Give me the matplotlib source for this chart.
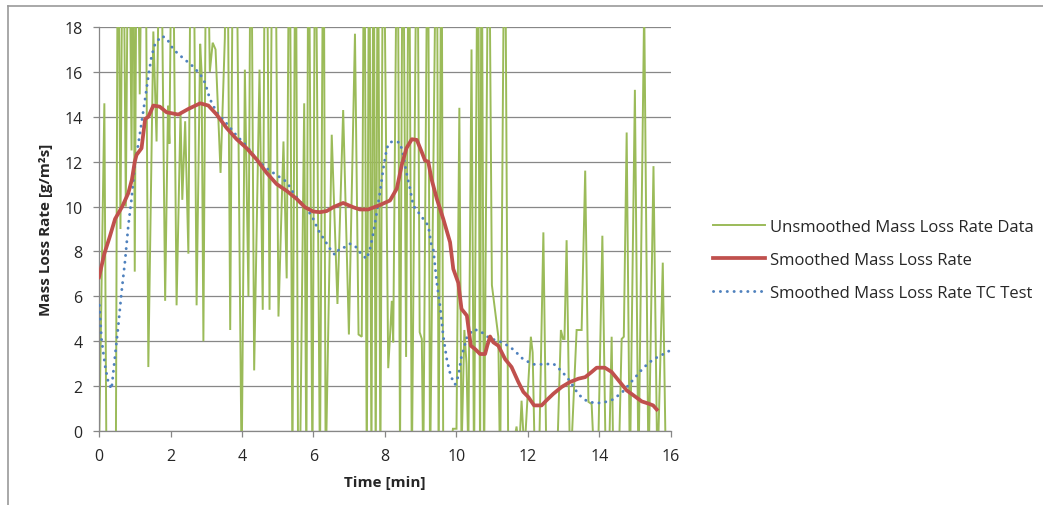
import matplotlib
matplotlib.use("Agg")
import matplotlib.pyplot as plt
from matplotlib.lines import Line2D

plt.rcParams['font.family'] = ['Open Sans', 'DejaVu Sans']

# Raw (unsmoothed) mass loss rate samples [min, g/m2s]
raw_time = [0.00, 0.15, 0.21, 0.47, 0.53, 0.60, 0.67, 0.75, 0.83, 0.91, 0.96, 1.00,
            1.06, 1.14, 1.22, 1.30, 1.38, 1.52, 1.61, 1.72, 1.85, 1.93, 1.97, 2.05,
            2.17, 2.28, 2.33, 2.41, 2.50, 2.58, 2.66, 2.73, 2.83, 2.87, 2.92, 3.01,
            3.10, 3.18, 3.26, 3.40, 3.52, 3.58, 3.67, 3.76, 3.85, 3.99, 4.08, 4.18,
            4.25, 4.34, 4.49, 4.58, 4.65, 4.71, 4.77, 4.86, 4.93, 5.02, 5.16, 5.25,
            5.33, 5.41, 5.50, 5.57, 5.62, 5.74, 5.80, 5.86, 5.97, 6.05, 6.18, 6.28,
            6.34, 6.51, 6.67, 6.83, 6.99, 7.16, 7.26, 7.35, 7.42, 7.49, 7.56, 7.62,
            7.68, 7.74, 7.80, 7.87, 7.95, 8.09, 8.15, 8.19, 8.23, 8.35, 8.42, 8.50,
            8.59, 8.67, 8.75, 8.90, 8.97, 9.03, 9.07, 9.20, 9.26, 9.45, 9.50, 9.58,
            9.63, 9.75, 9.90, 10.00, 10.08, 10.14, 10.22, 10.28, 10.33, 10.42, 10.49,
            10.60, 10.66, 10.70, 10.77, 10.90, 10.99, 11.17, 11.22, 11.35, 11.45,
            11.55, 11.68, 11.75, 11.82, 11.90, 12.08, 12.13, 12.20, 12.30, 12.43,
            12.52, 12.80, 12.92, 12.98, 13.02, 13.08, 13.18, 13.36, 13.50, 13.60,
            13.69, 13.78, 13.87, 13.95, 14.08, 14.18, 14.27, 14.34, 14.39, 14.53,
            14.62, 14.68, 14.76, 14.85, 14.99, 15.09, 15.25, 15.37, 15.51, 15.62,
            15.77, 15.86]
raw_rate = [-1.0, 14.6, -2.0, -2.0, 26.0, 9.0, 26.0, 10.0, 26.0, 12.5, 26.0, 7.1,
            26.0, 15.0, 26.0, 24.0, 2.85, 17.8, 12.9, 26.0, 5.8, 14.5, 12.8, 26.0,
            5.6, 14.2, 10.3, 13.8, 7.9, 26.0, 20.0, 5.6, 17.25, 16.0, 4.0, 26.0,
            16.0, 17.3, 17.0, 11.5, 17.5, 26.0, 4.5, 26.0, 22.0, -2.0, 16.1, 6.0,
            26.0, 2.7, 16.1, 5.4, 26.0, 20.0, 5.4, 26.0, 24.0, 5.1, 12.9, 6.8,
            26.0, -2.0, 26.0, -2.0, -2.0, 14.6, -2.0, 26.0, -2.0, 26.0, -2.0, 26.0,
            -2.0, 13.2, 5.66, 14.3, 4.3, 17.7, 4.3, 4.2, 26.0, -2.0, 26.0, -2.0,
            26.0, -2.0, 26.0, -2.0, 26.0, 2.8, 4.5, 5.8, 3.95, 26.0, -1.0, 26.0,
            3.3, 26.0, -2.0, 26.0, 4.4, 4.1, -2.0, 26.0, -2.0, 26.0, -2.0, 26.0,
            -2.0, -2.0, 0.1, 0.1, 14.4, -1.0, 4.5, 3.0, -1.0, 17.0, -2.0,
            26.0, -2.0, 26.0, -2.0, 26.0, 6.5, 4.2, -2.0, 26.0, -2.0,
            -1.0, 0.2, -1.0, 1.35, -1.0, 4.2, 3.5, -2.0, -2.0, 8.85,
            -2.0, -2.0, 4.5, 4.1, 4.1, 8.5, -2.0, 4.5, 4.5, 11.6,
            1.3, 1.2, -2.0, -2.0, 8.7, -2.0, -1.0, 4.2, -2.0, -2.0,
            4.1, 4.2, 13.3, -2.0, 15.2, -2.0, 19.0, -2.0, 11.8, -2.0,
            7.5, -2.0]

# Smoothed mass loss rate
smooth_time = [0.00, 0.15, 0.30, 0.45, 0.65, 0.82, 0.92, 1.00, 1.05, 1.19, 1.29, 1.38,
               1.52, 1.70, 1.89, 2.22, 2.50, 2.83, 3.06, 3.29, 3.57, 3.85, 4.13, 4.41,
               4.69, 4.97, 5.25,
               5.53, 5.76, 5.99, 6.18, 6.37, 6.55, 6.83, 7.11, 7.30, 7.53, 7.86, 8.14,
               8.33, 8.47, 8.60, 8.75, 8.89, 9.03, 9.12, 9.21, 9.30, 9.45, 9.63, 9.82,
               9.91, 10.05, 10.14, 10.29, 10.40, 10.52, 10.66, 10.80, 10.86, 10.94,
               11.03, 11.17, 11.36, 11.54, 11.73, 11.87, 12.01, 12.17, 12.38, 12.52,
               12.71, 12.94, 13.17, 13.41, 13.60, 13.78, 13.92, 14.15, 14.34, 14.53,
               14.76, 14.95, 15.18, 15.37, 15.50, 15.60]
smooth_rate = [6.85, 7.9, 8.65, 9.45, 10.0, 10.6, 11.2, 12.0, 12.3, 12.6, 13.9, 14.0,
               14.5, 14.45, 14.2, 14.1, 14.35, 14.6, 14.5, 14.1, 13.5, 13.0, 12.6, 12.1,
               11.5, 11.0, 10.7,
               10.34, 9.97, 9.78, 9.75, 9.8, 9.97, 10.16, 9.97, 9.87, 9.87, 10.07, 10.27,
               10.8, 11.86, 12.6, 13.0, 12.97, 12.42, 12.05, 12.0, 11.23, 10.34, 9.45, 8.41,
               7.22, 6.6, 5.44, 5.14, 3.8, 3.65, 3.43, 3.43, 3.8, 4.21,
               3.95, 3.8, 3.2, 2.85, 2.18, 1.74, 1.51, 1.14, 1.14, 1.37,
               1.66, 1.96, 2.18, 2.33, 2.4, 2.63, 2.82, 2.82, 2.63, 2.26,
               1.81, 1.59, 1.32, 1.22, 1.14, 0.96]

# Smoothed mass loss rate, TC test
tc_time = [0.01, 0.07, 0.17, 0.26, 0.35, 0.45, 0.54, 0.63, 0.73, 0.82, 0.91, 1.00,
           1.15, 1.29, 1.38, 1.47, 1.57, 1.75, 1.89, 2.08, 2.36, 2.59, 2.83, 2.97,
           3.10, 3.29, 3.57, 3.85, 4.13, 4.41, 4.69, 4.97, 5.25, 5.48, 5.76, 5.95,
           6.14, 6.32, 6.51, 6.60, 6.74, 6.88, 7.02, 7.16, 7.25, 7.40, 7.49, 7.58,
           7.68, 7.77, 7.86, 7.95, 8.05, 8.14, 8.28, 8.42, 8.51, 8.60, 8.70, 8.79,
           8.93, 9.07, 9.21, 9.30, 9.35, 9.45, 9.54, 9.63, 9.73, 9.84, 9.96, 10.05,
           10.14, 10.29, 10.47, 10.66, 10.84, 11.03, 11.31, 11.59, 11.87, 12.15,
           12.43, 12.71, 12.94, 13.17, 13.41, 13.64, 13.87, 14.10, 14.39, 14.67,
           14.95, 15.23, 15.50, 15.78, 16.02]
tc_rate = [5.6, 4.1, 2.9, 2.17, 1.87, 3.36, 4.7, 6.18, 7.6, 9.15, 10.34, 11.8,
           13.3, 14.8, 15.8, 16.7, 17.25, 17.6, 17.5, 17.0, 16.6, 16.3, 15.9, 15.5,
           14.8, 14.2, 13.7, 13.16, 12.7, 12.1, 11.7, 11.4, 11.1, 10.5, 9.97, 9.6,
           8.93, 8.48, 8.0, 7.85, 8.14, 8.19, 8.34, 8.26, 8.04, 7.79, 7.67, 8.11,
           8.86, 9.75, 10.64, 11.67, 12.6, 12.87, 12.9, 12.85, 12.3, 11.5, 10.8, 10.04,
           9.75, 9.45, 9.15, 8.26, 8.1, 6.6, 5.56, 4.22, 3.18, 2.44, 2.07, 2.44,
           3.33, 4.16, 4.53, 4.46, 4.22, 4.08, 3.93, 3.63, 3.19, 2.97,
           2.97, 3.0, 2.67, 2.23, 1.63, 1.34, 1.24, 1.26, 1.41, 1.78,
           2.3, 2.82, 3.19, 3.42, 3.63]

x_ticks = [0, 2, 4, 6, 8, 10, 12, 14, 16]
y_ticks = [0, 2, 4, 6, 8, 10, 12, 14, 16, 18]

GREEN = '#9BBB59'
RED = '#C0504D'
BLUE = '#4F81BD'
GRID = '#878787'
TEXT = '#262626'
DOTS = (0, (0.05, 2.3))

fig = plt.figure(figsize=(10.43, 5.06), dpi=100)
ax = fig.add_axes([99 / 1043, 1 - 432 / 506, (671 - 99) / 1043, (432 - 28) / 506])

ax.plot(raw_time, raw_rate, color=GREEN, lw=1.4, solid_joinstyle='miter', zorder=2,
        label='Unsmoothed Mass Loss Rate Data')
ax.plot(smooth_time, smooth_rate, color=RED, lw=2.7, zorder=4,
        label='Smoothed Mass Loss Rate')
ax.plot(tc_time, tc_rate, color=BLUE, lw=2.1, linestyle=DOTS,
        dash_capstyle='round', zorder=3, label='Smoothed Mass Loss Rate TC Test')

ax.set_xlim(0, 16)
ax.set_ylim(0, 18)
ax.set_xticks(x_ticks)
ax.set_yticks(y_ticks)
ax.grid(axis='y', color=GRID, lw=0.9)
ax.set_axisbelow(True)
for side in ('top', 'right'):
    ax.spines[side].set_visible(False)
for side in ('left', 'bottom'):
    ax.spines[side].set_color(GRID)
    ax.spines[side].set_linewidth(0.9)
ax.tick_params(axis='both', direction='out', length=4, width=0.9, color=GRID,
               labelsize=11.5, labelcolor=TEXT)
ax.tick_params(axis='x', pad=8)
ax.tick_params(axis='y', pad=8)

ax.set_xlabel('Time [min]', fontsize=11, fontweight='bold', labelpad=8, color=TEXT)
ax.set_ylabel('Mass Loss Rate [g/m²s]', fontsize=11, fontweight='bold', labelpad=8,
              color=TEXT)

handles = [Line2D([], [], color=GREEN, lw=1.4),
           Line2D([], [], color=RED, lw=2.7),
           Line2D([], [], color=BLUE, lw=2.1, linestyle=DOTS, dash_capstyle='round')]
labels = ['Unsmoothed Mass Loss Rate Data', 'Smoothed Mass Loss Rate',
          'Smoothed Mass Loss Rate TC Test']
fig.legend(handles, labels, loc='center left', bbox_to_anchor=(698 / 1043, 1 - 261 / 506),
           frameon=False, fontsize=12, handlelength=3.1, handletextpad=0.3,
           labelspacing=1.02, labelcolor=TEXT)

# thin frame around the chart area
fig.add_artist(Line2D([8 / 1043, 1.0], [1 - 7 / 506, 1 - 7 / 506], color='#9a9a9a', lw=1.2))
fig.add_artist(Line2D([8 / 1043, 8 / 1043], [0.0, 1 - 7 / 506], color='#9a9a9a', lw=1.2))

fig.savefig('out.png', dpi=100)
